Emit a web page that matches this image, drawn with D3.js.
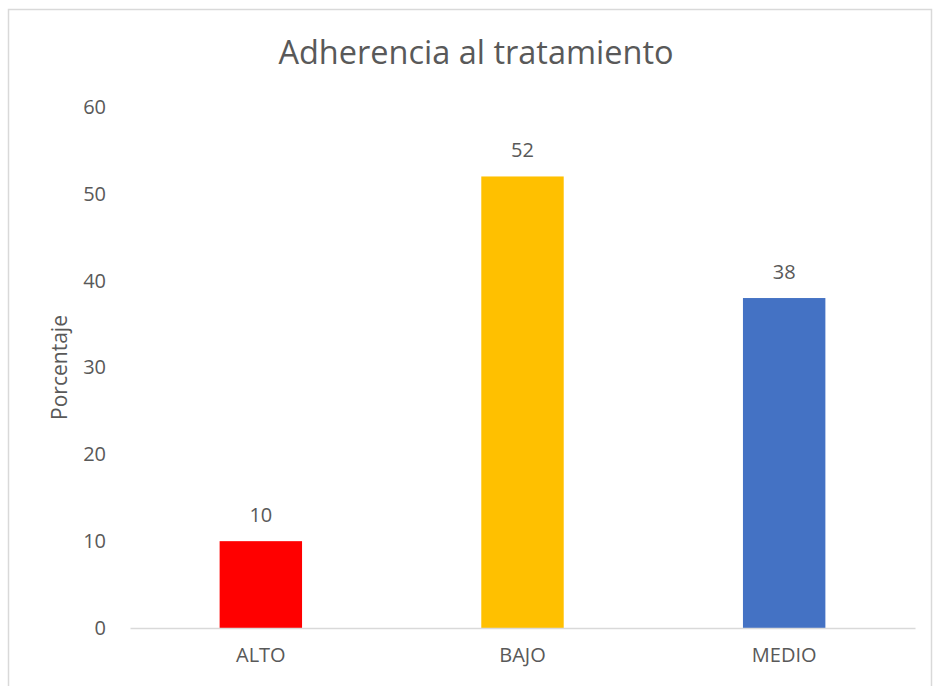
<!DOCTYPE html>
<html>
<head>
<meta charset="utf-8">
<script src="https://cdn.jsdelivr.net/npm/d3@7"></script>
<style>
  body { margin: 0; background: #fff; }
  text { font-family: "Open Sans", "Liberation Sans", sans-serif; fill: #595959; }
</style>
</head>
<body>
<svg id="chart"></svg>
<script>
const categories = ["ALTO", "BAJO", "MEDIO"];
const values = [10, 52, 38];
const colors = ["#ff0000", "#ffc000", "#4472c4"];
const yTicks = [0, 10, 20, 30, 40, 50, 60];

const svgWidth = 933;
const svgHeight = 686;
const margin = { top: 107, right: 18, bottom: 58, left: 130 };
const width = svgWidth - margin.left - margin.right;
const height = svgHeight - margin.top - margin.bottom;

const svg = d3.select("#chart")
  .attr("width", svgWidth)
  .attr("height", svgHeight);

// chart border
svg.append("rect")
  .attr("x", 8.5).attr("y", 9.5)
  .attr("width", 923).attr("height", 690)
  .attr("fill", "none")
  .attr("stroke", "#d9d9d9")
  .attr("stroke-width", 1.5);

svg.append("text")
  .attr("x", 476)
  .attr("y", 64)
  .attr("text-anchor", "middle")
  .style("font-size", "32.5px")
  .text("Adherencia al tratamiento");

const chart = svg.append("g")
  .attr("transform", "translate(" + margin.left + "," + margin.top + ")");

const xScale = d3.scaleBand()
  .domain(categories)
  .range([0, width]);

const yScale = d3.scaleLinear()
  .domain([0, 60])
  .range([height, 0]);

const barWidth = xScale.bandwidth() * 0.315;

// y axis labels
const yAxis = chart.append("g")
  .call(d3.axisLeft(yScale).tickValues(yTicks).tickSize(0).tickPadding(24));
yAxis.select(".domain").remove();
yAxis.selectAll("text").style("font-size", "20px").attr("fill", "#595959");

// bars
chart.selectAll(".bar")
  .data(values)
  .enter().append("rect")
  .attr("class", "bar")
  .attr("x", (d, i) => xScale(categories[i]) + xScale.bandwidth() / 2 - barWidth / 2)
  .attr("y", d => yScale(d))
  .attr("width", barWidth)
  .attr("height", d => height - yScale(d))
  .attr("fill", (d, i) => colors[i]);

// data labels
chart.selectAll(".lbl")
  .data(values)
  .enter().append("text")
  .attr("class", "lbl")
  .attr("x", (d, i) => xScale(categories[i]) + xScale.bandwidth() / 2)
  .attr("y", d => yScale(d) - 19)
  .attr("text-anchor", "middle")
  .style("font-size", "20px")
  .text(d => d);

// x axis
const xAxis = chart.append("g")
  .attr("transform", "translate(0," + height + ")")
  .call(d3.axisBottom(xScale).tickSize(0).tickPadding(20));
xAxis.select(".domain").attr("stroke", "#d9d9d9").attr("stroke-width", 1.5);
xAxis.selectAll("text").style("font-size", "20px").attr("fill", "#595959");

// y axis title
svg.append("text")
  .attr("transform", "translate(67," + (margin.top + height / 2) + ") rotate(-90)")
  .attr("text-anchor", "middle")
  .style("font-size", "21px")
  .text("Porcentaje");
</script>
</body>
</html>
